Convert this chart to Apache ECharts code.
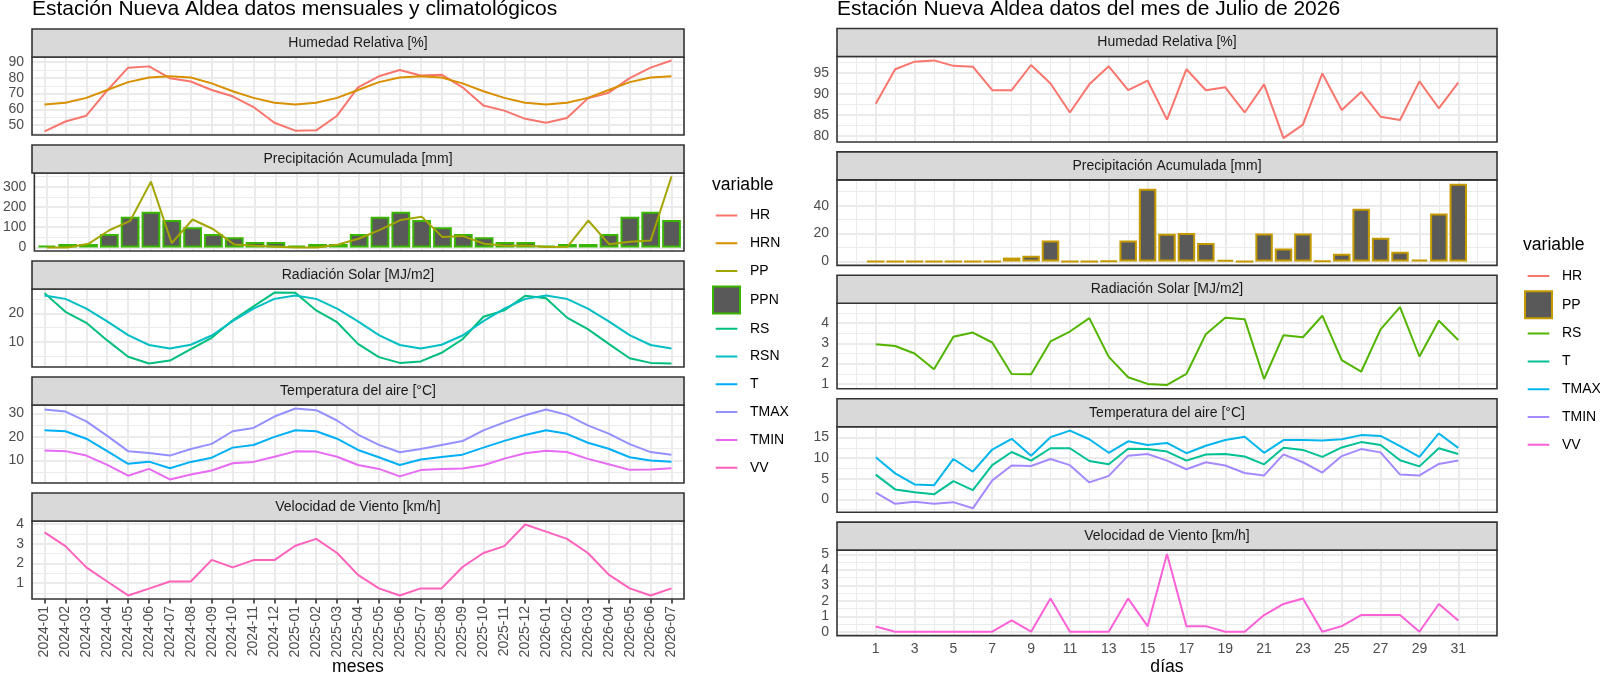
<!DOCTYPE html>
<html>
<head>
<meta charset="utf-8">
<title>Estación Nueva Aldea</title>
<script src="https://cdn.jsdelivr.net/npm/echarts@6/dist/echarts.min.js"></script>
<style>
html, body { margin: 0; padding: 0; background: #fff; }
#chart { width: 1600px; height: 676px; }
</style>
</head>
<body>
<div id="chart"></div>
<script>
// ---- datos mensuales (izquierda) ----
var months = ['2024-01','2024-02','2024-03','2024-04','2024-05','2024-06','2024-07','2024-08','2024-09','2024-10','2024-11','2024-12',
              '2025-01','2025-02','2025-03','2025-04','2025-05','2025-06','2025-07','2025-08','2025-09','2025-10','2025-11','2025-12',
              '2026-01','2026-02','2026-03','2026-04','2026-05','2026-06','2026-07'];
var hrMes   = [46, 52.3, 56, 72, 86.5, 87.3, 79.8, 77.7, 72.3, 68.3, 61.5, 51.5, 46.5, 46.7, 56, 74, 81, 85, 81.5, 82, 74, 62.5, 59.2, 54, 51.5, 54.6, 67, 70.6, 79.8, 86.5, 91];
var hrnMes  = [63.1, 64.2, 67.3, 72.3, 77.3, 80.2, 81, 80.2, 76.5, 71.5, 67.3, 64.2, 63.1, 64.2, 67.3, 72.3, 77.3, 80.2, 81, 80.2, 76.5, 71.5, 67.3, 64.2, 63.1, 64.2, 67.3, 72.3, 77.3, 80.2, 81];
var ppMes   = [0, 0, 18, 85, 131, 325, 21, 138, 90, 14, 8, 4, 0, 0, 15, 44, 87, 136, 152, 51, 56, 18, 8, 10, 2, 3, 133, 16, 28, 34, 350];
var ppnMes  = [9, 17, 17, 66, 151, 176, 135, 100, 66, 50, 27, 27, 9, 17, 17, 66, 151, 176, 135, 100, 66, 50, 27, 27, 9, 17, 17, 66, 151, 176, 135];
var rsMes   = [27, 20.5, 16.7, 10.6, 4.9, 2.6, 3.6, 7.6, 11.5, 17.6, 22.4, 27.2, 27.1, 21, 16.9, 9.4, 4.8, 2.8, 3.3, 6.3, 11, 18.8, 21, 26.1, 25.2, 18.5, 14.5, 9.4, 4.4, 2.8, 2.6];
var rsnMes  = [26.2, 25, 21.6, 17.2, 12.4, 9, 7.8, 9.1, 12.3, 17.3, 21.6, 25, 26.2, 25, 21.6, 17.2, 12.4, 9, 7.8, 9.1, 12.3, 17.3, 21.6, 25, 26.2, 25, 21.6, 17.2, 12.4, 9, 7.8];
var tMes    = [22.8, 22.4, 19.2, 13.9, 8.5, 9.4, 6.6, 9.3, 11.1, 15.4, 16.5, 20, 22.8, 22.4, 19.2, 14.4, 11.3, 8, 10.3, 11.4, 12.4, 15.4, 18.3, 20.8, 22.8, 21.3, 17.5, 14.9, 11.3, 9.9, 9.4];
var tmaxMes = [31.7, 30.8, 26.6, 20.4, 13.9, 13.1, 12, 14.8, 17, 22.4, 23.8, 28.7, 32.1, 31.4, 27, 21, 16.6, 13.4, 14.8, 16.5, 18.2, 22.8, 26.2, 29.2, 31.7, 29.4, 24.9, 21.4, 16.9, 13.5, 12.4];
var tminMes = [14.2, 13.9, 12, 8, 3.4, 6.3, 1.8, 3.9, 5.6, 8.7, 9.3, 11.5, 13.8, 13.7, 11.5, 8, 6.3, 3.1, 5.8, 6.3, 6.5, 7.9, 10.7, 13, 14.1, 13.5, 10.6, 8.3, 5.9, 6.1, 6.6];
var vvMes   = [3.58, 2.88, 1.8, 1.08, 0.37, 0.72, 1.08, 1.08, 2.18, 1.8, 2.17, 2.17, 2.9, 3.25, 2.53, 1.42, 0.73, 0.37, 0.73, 0.73, 1.82, 2.53, 2.88, 3.98, 3.62, 3.25, 2.53, 1.43, 0.73, 0.37, 0.73];

// ---- datos diarios julio 2026 (derecha) ----
var dias     = [1, 2, 3, 4, 5, 6, 7, 8, 9, 10, 11, 12, 13, 14, 15, 16, 17, 18, 19, 20, 21, 22, 23, 24, 25, 26, 27, 28, 29, 30, 31];
var hrDia    = [87.7, 95.9, 97.7, 98, 96.7, 96.5, 90.9, 90.9, 96.9, 92.5, 85.6, 92.3, 96.6, 90.9, 93.2, 83.9, 95.9, 90.9, 91.6, 85.6, 92.3, 79.5, 82.7, 94.9, 86.2, 90.5, 84.6, 83.8, 93, 86.6, 92.7];
var ppDia    = [0, 0, 0, 0, 0, 0, 0, 2.8, 4.2, 15, 0, 0, 0.5, 15, 52.2, 19.9, 20.4, 13.3, 1.2, 0, 20, 9.4, 20, 0.3, 5.6, 37.9, 17, 7, 1.4, 34.4, 55.7];
var rsDia    = [2.95, 2.87, 2.5, 1.72, 3.32, 3.53, 3.04, 1.49, 1.47, 3.09, 3.58, 4.24, 2.33, 1.33, 1.0, 0.95, 1.49, 3.45, 4.26, 4.19, 1.24, 3.4, 3.3, 4.36, 2.17, 1.6, 3.69, 4.78, 2.35, 4.11, 3.16];
var tDia     = [6.0, 2.4, 1.7, 1.2, 4.4, 2.2, 8.3, 11.5, 9.4, 12.4, 12.4, 9.3, 8.5, 12.3, 12.2, 11.6, 9.4, 10.9, 11, 10.4, 8.5, 12.5, 12, 10.3, 12.6, 13.9, 13.2, 9.5, 8, 12.4, 11];
var tmaxDia  = [10.2, 6.3, 3.6, 3.4, 9.8, 6.7, 12.1, 14.7, 10.6, 15.1, 16.7, 14.6, 11.3, 14.1, 13.2, 13.7, 11.2, 13, 14.4, 15.2, 11.3, 14.4, 14.4, 14.3, 14.6, 15.6, 15.4, 12.9, 10.3, 16, 12.5];
var tminDia  = [1.6, -1.1, -0.6, -1.1, -0.7, -2.2, 4.6, 8.2, 8.1, 9.8, 8.3, 4.1, 5.7, 10.6, 11, 9.4, 7.3, 9, 8.2, 6.4, 5.8, 10.9, 9, 6.5, 10.5, 12.2, 11.4, 6, 5.8, 8.6, 9.4];
var vvDia    = [0.34, 0, 0, 0, 0, 0, 0, 0.74, 0, 2.15, 0, 0, 0, 2.15, 0.36, 5.04, 0.36, 0.36, 0, 0, 1.08, 1.8, 2.15, 0, 0.36, 1.08, 1.08, 1.08, 0, 1.8, 0.72];

// ---- etiquetas de ejes ----
var diasTicks   = [1, 3, 5, 7, 9, 11, 13, 15, 17, 19, 21, 23, 25, 27, 29, 31];
var ticksMesHR  = [50, 60, 70, 80, 90];
var ticksMesPP  = [0, 100, 200, 300];
var ticksMesRS  = [10, 20];
var ticksMesT   = [10, 20, 30];
var ticksMesVV  = [1, 2, 3, 4];
var ticksDiaHR  = [80, 85, 90, 95];
var ticksDiaPP  = [0, 20, 40];
var ticksDiaRS  = [1, 2, 3, 4];
var ticksDiaT   = [0, 5, 10, 15];
var ticksDiaVV  = [0, 1, 2, 3, 4, 5];

var FONT = '"Liberation Sans", Arial, Helvetica, sans-serif';
var LINE_ICON = 'path://M0,0h0.01v0.01zM2.7,12.5h21.6v2h-21.6zM27,27h-0.01v-0.01z';

var colMes = {HR: '#F8766D', HRN: '#D89000', PP: '#A3A500', PPN: '#39B600', RS: '#00BF7D',
              RSN: '#00BFC4', T: '#00B0F6', TMAX: '#9590FF', TMIN: '#E76BF3', VV: '#FF62BC'};
var colDia = {HR: '#F8766D', PP: '#C49A00', RS: '#53B400', T: '#00C094',
              TMAX: '#00B6EB', TMIN: '#A58AFF', VV: '#FB61D7'};

var grids = [], xAxes = [], yAxes = [], series = [], graphics = [];

var monthIdx = months.map(function (m, i) { return i; });

var sideL = {
    x: 32, w: 652, top0: 57, step: 116, h: 78,
    xs: monthIdx,
    xMin: -0.6, xMax: months.length - 1 + 0.6,
    tickVals: monthIdx, vMajor: monthIdx, vMinor: [],
    fmt: function (v) { return months[Math.round(v)]; }, rot: 90
};
var dLo = dias[0] - 0.45, dHi = dias[dias.length - 1] + 0.45, dPad = (dHi - dLo) * 0.05;
var sideR = {
    x: 837, w: 660, top0: 56.5, step: 123.4, h: 85.5,
    xs: dias,
    xMin: dLo - dPad, xMax: dHi + dPad,
    tickVals: diasTicks, vMajor: diasTicks,
    vMinor: [0].concat(diasTicks.map(function (d) { return d + 1; })),
    fmt: null, rot: 0
};

function minorOf(ticks, lo, hi) {
    var step = ticks[1] - ticks[0], out = [];
    for (var v = ticks[0] - step * 10.5; v <= hi; v += step) {
        if (v >= lo) out.push(v);
    }
    return out;
}

function gl(key, v, w) {
    var o = {lineStyle: {color: '#EBEBEB', width: w, type: 'solid'}};
    o[key] = v;
    return o;
}

function addPanel(side, k, title, yTicks, items) {
    var g = grids.length;
    var top = side.top0 + side.step * k;
    var isLast = k === 4;
    var all = [];
    items.forEach(function (it) {
        all = all.concat(it.data);
        if (it.bar) all.push(0);
    });
    var lo = Math.min.apply(null, all), hi = Math.max.apply(null, all);
    var pad = (hi - lo) * 0.05;
    var yMin = lo - pad, yMax = hi + pad;

    grids.push({left: side.x, top: top, width: side.w, height: side.h, show: true,
        borderColor: '#333333', borderWidth: 1.6, backgroundColor: 'transparent', z: 10});

    var xLab = {show: isLast, customValues: side.tickVals, rotate: side.rot, margin: 7,
        color: '#4D4D4D', fontSize: 14, fontFamily: FONT};
    if (side.fmt) xLab.formatter = side.fmt;
    xAxes.push({gridIndex: g, type: 'value', min: side.xMin, max: side.xMax,
        axisLine: {show: false}, splitLine: {show: false},
        axisTick: {show: isLast, length: 4.4, customValues: side.tickVals,
            lineStyle: {color: '#333333', width: 1.6}},
        axisLabel: xLab});
    yAxes.push({gridIndex: g, type: 'value', min: yMin, max: yMax,
        axisLine: {show: false}, splitLine: {show: false},
        axisTick: {show: true, length: 4.4, customValues: yTicks,
            lineStyle: {color: '#333333', width: 1.6}},
        axisLabel: {customValues: yTicks, margin: 8, color: '#4D4D4D', fontSize: 14, fontFamily: FONT}});

    // grilla del panel
    var lines = [];
    side.vMinor.forEach(function (v) { lines.push(gl('xAxis', v, 1)); });
    minorOf(yTicks, yMin, yMax).forEach(function (v) { lines.push(gl('yAxis', v, 1)); });
    side.vMajor.forEach(function (v) { lines.push(gl('xAxis', v, 2)); });
    yTicks.forEach(function (v) { lines.push(gl('yAxis', v, 2)); });
    series.push({type: 'line', xAxisIndex: g, yAxisIndex: g, data: [], silent: true, z: 1,
        markLine: {silent: true, z: 1, symbol: ['none', 'none'], label: {show: false},
            animation: false, emphasis: {disabled: true}, data: lines}});

    items.forEach(function (it) {
        var pts = it.data.map(function (v, i) { return [side.xs[i], v]; });
        if (it.bar) {
            series.push({type: 'bar', name: it.name, xAxisIndex: g, yAxisIndex: g, data: pts,
                barWidth: '90%', z: 2, animation: false,
                itemStyle: {color: '#595959', borderColor: it.color, borderWidth: 2}});
        } else {
            series.push({type: 'line', name: it.name, xAxisIndex: g, yAxisIndex: g, data: pts,
                symbol: 'none', showSymbol: false, z: 3, animation: false,
                itemStyle: {color: it.color}, lineStyle: {color: it.color, width: 2}});
        }
    });

    graphics.push({type: 'rect', z: 20, shape: {x: side.x, y: top - 28, width: side.w, height: 28},
        style: {fill: '#D9D9D9', stroke: '#333333', lineWidth: 1.6}});
    graphics.push({type: 'text', z: 21, style: {text: title, x: side.x + side.w / 2, y: top - 14,
        align: 'center', verticalAlign: 'middle', textAlign: 'center', textVerticalAlign: 'middle',
        fontSize: 14, fontFamily: FONT, fill: '#1A1A1A'}});
}

function txt(s, x, y, size, align) {
    return {type: 'text', z: 21, style: {text: s, x: x, y: y, align: align, verticalAlign: 'middle',
        textAlign: align, textVerticalAlign: 'middle', fontSize: size, fontFamily: FONT, fill: '#000'}};
}

// panel izquierdo
addPanel(sideL, 0, 'Humedad Relativa [%]', ticksMesHR, [
    {name: 'HR', data: hrMes, color: colMes.HR}, {name: 'HRN', data: hrnMes, color: colMes.HRN}]);
addPanel(sideL, 1, 'Precipitación Acumulada [mm]', ticksMesPP, [
    {name: 'PPN', data: ppnMes, color: colMes.PPN, bar: true}, {name: 'PP', data: ppMes, color: colMes.PP}]);
addPanel(sideL, 2, 'Radiación Solar [MJ/m2]', ticksMesRS, [
    {name: 'RS', data: rsMes, color: colMes.RS}, {name: 'RSN', data: rsnMes, color: colMes.RSN}]);
addPanel(sideL, 3, 'Temperatura del aire [°C]', ticksMesT, [
    {name: 'T', data: tMes, color: colMes.T}, {name: 'TMAX', data: tmaxMes, color: colMes.TMAX},
    {name: 'TMIN', data: tminMes, color: colMes.TMIN}]);
addPanel(sideL, 4, 'Velocidad de Viento [km/h]', ticksMesVV, [
    {name: 'VV', data: vvMes, color: colMes.VV}]);

// panel derecho
addPanel(sideR, 0, 'Humedad Relativa [%]', ticksDiaHR, [
    {name: 'HR.d', data: hrDia, color: colDia.HR}]);
addPanel(sideR, 1, 'Precipitación Acumulada [mm]', ticksDiaPP, [
    {name: 'PP.d', data: ppDia, color: colDia.PP, bar: true}]);
addPanel(sideR, 2, 'Radiación Solar [MJ/m2]', ticksDiaRS, [
    {name: 'RS.d', data: rsDia, color: colDia.RS}]);
addPanel(sideR, 3, 'Temperatura del aire [°C]', ticksDiaT, [
    {name: 'T.d', data: tDia, color: colDia.T}, {name: 'TMAX.d', data: tmaxDia, color: colDia.TMAX},
    {name: 'TMIN.d', data: tminDia, color: colDia.TMIN}]);
addPanel(sideR, 4, 'Velocidad de Viento [km/h]', ticksDiaVV, [
    {name: 'VV.d', data: vvDia, color: colDia.VV}]);

graphics.push(txt('Estación Nueva Aldea datos mensuales y climatológicos', 32, 9.5, 21, 'left'));
graphics.push(txt('Estación Nueva Aldea datos del mes de Julio de 2026', 837, 9.5, 21, 'left'));
graphics.push(txt('meses', 358, 667, 17.6, 'center'));
graphics.push(txt('días', 1167, 667, 17.6, 'center'));
graphics.push(txt('variable', 712, 185, 17.6, 'left'));
graphics.push(txt('variable', 1523, 245, 17.6, 'left'));

function legendItems(cols, suffix, barKey) {
    return Object.keys(cols).map(function (k) {
        if (k === barKey) {
            return {name: k + suffix, icon: 'rect',
                itemStyle: {color: '#595959', borderColor: cols[k], borderWidth: 2}};
        }
        return {name: k + suffix, icon: LINE_ICON, itemStyle: {color: cols[k], borderWidth: 0}};
    });
}

function legendBox(left, top, items) {
    return {orient: 'vertical', left: left, top: top, padding: 0, itemWidth: 27, itemHeight: 27,
        itemGap: 0.8, selectedMode: false, data: items,
        formatter: function (n) { return n.replace('.d', ''); },
        textStyle: {fontSize: 14, fontFamily: FONT, color: '#000', padding: [0, 0, 0, 5]}};
}

var chart = echarts.init(document.getElementById('chart'));
chart.setOption({
    animation: false,
    backgroundColor: '#ffffff',
    grid: grids,
    xAxis: xAxes,
    yAxis: yAxes,
    legend: [legendBox(712, 202, legendItems(colMes, '', 'PPN')),
             legendBox(1524, 262.5, legendItems(colDia, '.d', 'PP'))],
    graphic: graphics,
    series: series
});
window.onresize = function () { chart.resize(); };
</script>
</body>
</html>
